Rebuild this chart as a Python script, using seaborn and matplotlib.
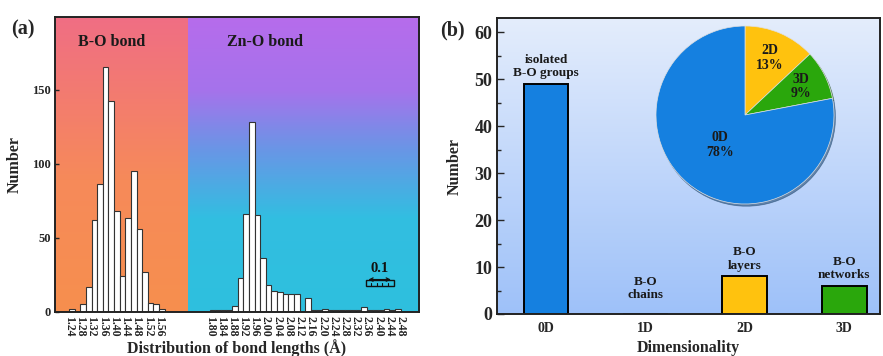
import numpy as np
import pandas as pd
import matplotlib
matplotlib.use("Agg")
import matplotlib.pyplot as plt
import seaborn as sns
from matplotlib.colors import LinearSegmentedColormap
from matplotlib.patches import Rectangle, FancyArrowPatch

# ---------------- data ----------------
bin_width = 0.02
bo_start = 1.24
bo_counts = [2, 0, 5, 17, 62, 86, 165, 142, 68, 24, 63, 95, 56, 27, 6, 5, 2]
zno_start = 1.80
zno_counts = [1, 1, 1, 1, 4, 23, 66, 128, 65, 36, 18, 14, 13, 12, 12, 12, 0, 9,
              1, 1, 2, 1, 1, 1, 1, 1, 1, 3, 1, 1, 1, 2, 1, 2]
bo_ticks = [1.24, 1.28, 1.32, 1.36, 1.40, 1.44, 1.48, 1.52, 1.56]
zno_ticks = [1.80, 1.84, 1.88, 1.92, 1.96, 2.00, 2.04, 2.08, 2.12, 2.16, 2.20,
             2.24, 2.28, 2.32, 2.36, 2.40, 2.44, 2.48]
axis_break_shift = 0.06   # Zn-O part drawn shifted left (axis break)

dims = ["0D", "1D", "2D", "3D"]
dim_counts = [49, 0, 8, 6]
dim_notes = ["isolated\nB-O groups", "B-O\nchains", "B-O\nlayers", "B-O\nnetworks"]
pie_labels = ["2D", "3D", "0D"]
pie_pct = [13, 9, 78]

dim_colors = {"0D": "#1580E0", "1D": "#1580E0", "2D": "#FFC20E", "3D": "#2AA70C"}

# ---------------- style ----------------
sns.set_style("ticks")
plt.rcParams["font.family"] = ["Liberation Serif", "DejaVu Serif"]
plt.rcParams["font.weight"] = "bold"
plt.rcParams["axes.labelweight"] = "bold"

W, H = 883, 356
fig = plt.figure(figsize=(W / 100, H / 100), dpi=100)

def px_axes(x0, y0, x1, y1):
    return [x0 / W, 1 - y1 / H, (x1 - x0) / W, (y1 - y0) / H]

# ================= panel (a) =================
ax1 = fig.add_axes(px_axes(55, 17, 419, 311.7))
xmin, xmax, ymax = 1.19, 2.485, 199
xsplit = 1.663

cm_bo = LinearSegmentedColormap.from_list(
    "bo", [(0.0, (247/255, 143/255, 78/255)), (0.45, (246/255, 138/255, 90/255)),
           (1.0, (240/255, 110/255, 132/255))])
cm_zn = LinearSegmentedColormap.from_list(
    "zn", [(0.0, (46/255, 192/255, 222/255)), (0.32, (50/255, 190/255, 225/255)),
           (0.55, (105/255, 150/255, 230/255)), (0.75, (165/255, 115/255, 235/255)),
           (1.0, (182/255, 108/255, 236/255))])
grad = np.linspace(0, 1, 256)[:, None]
ax1.imshow(grad, cmap=cm_bo, origin="lower", aspect="auto",
           extent=[xmin, xsplit, 0, ymax], zorder=0)
ax1.imshow(grad, cmap=cm_zn, origin="lower", aspect="auto",
           extent=[xsplit, xmax, 0, ymax], zorder=0)

bo_edges = bo_start + bin_width * np.arange(len(bo_counts) + 1)
zn_edges = zno_start + bin_width * np.arange(len(zno_counts) + 1) - axis_break_shift
df_bo = pd.DataFrame({"x": bo_edges[:-1] + bin_width / 2, "w": bo_counts})
df_zn = pd.DataFrame({"x": zn_edges[:-1] + bin_width / 2, "w": zno_counts})
hist_kw = dict(color="white", edgecolor="#333333", linewidth=0.8, alpha=1.0,
               ax=ax1, zorder=2)
sns.histplot(data=df_bo, x="x", weights="w", bins=list(bo_edges), **hist_kw)
sns.histplot(data=df_zn, x="x", weights="w", bins=list(zn_edges), **hist_kw)

ax1.set_xlim(xmin, xmax)
ax1.set_ylim(0, ymax)
tick_pos = list(bo_ticks) + [t - axis_break_shift for t in zno_ticks]
tick_lab = [f"{t:.2f}" for t in bo_ticks] + [f"{t:.2f}" for t in zno_ticks]
ax1.set_xticks(tick_pos)
ax1.set_xticklabels(tick_lab, rotation=270, fontsize=8.5, fontweight="bold")
ax1.set_yticks([0, 50, 100, 150])
ax1.set_yticklabels(["0", "50", "100", "150"], fontsize=9, fontweight="bold")
ax1.tick_params(axis="y", direction="in", length=3, width=1, pad=3)
ax1.tick_params(axis="x", direction="in", length=0, pad=3)
ax1.set_ylabel("Number", fontsize=11.5, fontweight="bold")
ax1.set_xlabel("Distribution of bond lengths (Å)", fontsize=11.5, fontweight="bold")
ax1.yaxis.set_label_coords(-0.088, 0.5)
ax1.xaxis.set_label_coords(0.5, -0.092)
for s in ax1.spines.values():
    s.set_linewidth(1.4)
    s.set_color("#222222")
    s.set_visible(True)

ax1.text(1.393, 182, "B-O bond", ha="center", va="center", fontsize=11.5,
         fontweight="bold", color="#1a1a1a")
ax1.text(1.937, 182, "Zn-O bond", ha="center", va="center", fontsize=11.5,
         fontweight="bold", color="#1a1a1a")

# scale bar "0.1"
sb_x0, sb_w = 2.295, 0.1
ax1.add_patch(Rectangle((sb_x0, 17.5), sb_w, 4.2, fill=False, edgecolor="#111",
                        linewidth=1.0, zorder=3))
for k in range(1, 5):
    ax1.plot([sb_x0 + 0.02 * k] * 2, [17.5, 19.3], color="#111", lw=0.8, zorder=3)
ax1.add_patch(FancyArrowPatch((sb_x0, 21.7), (sb_x0 + sb_w, 21.7), arrowstyle="<->",
                              mutation_scale=6, lw=0.9, color="#111", zorder=4))
ax1.text(sb_x0 + sb_w / 2, 29.5, "0.1", ha="center", va="center", fontsize=10.5,
         fontweight="bold", color="#111")

fig.text(23 / W, 1 - 29 / H, "(a)", ha="center", va="center", fontsize=14.5,
         fontweight="bold")

# ================= panel (b) =================
ax2 = fig.add_axes(px_axes(496.7, 18.3, 880, 314))
cm_bg = LinearSegmentedColormap.from_list(
    "bg", [(0.0, (158/255, 193/255, 249/255)), (1.0, (228/255, 237/255, 252/255))])
ax2.imshow(grad, cmap=cm_bg, origin="lower", aspect="auto",
           extent=[0, 1, 0, 1], transform=ax2.transAxes, zorder=0)

df = pd.DataFrame({"dim": dims, "count": dim_counts})
sns.barplot(data=df, x="dim", y="count", hue="dim", order=dims, palette=dim_colors,
            width=0.45, edgecolor="black", linewidth=1.4, legend=False, ax=ax2,
            saturation=1, zorder=2)
for i, (v, note) in enumerate(zip(dim_counts, dim_notes)):
    ax2.text(i, max(v, 1.8) + 1.0, note, ha="center", va="bottom", fontsize=9.5,
             fontweight="bold", linespacing=1.15, color="#1a1a1a", zorder=3)

ax2.set_xlim(-0.495, 3.36)
ax2.set_ylim(0, 63)
ax2.set_yticks(range(0, 61, 10))
ax2.set_yticks(range(5, 61, 10), minor=True)
ax2.tick_params(axis="y", which="major", direction="in", length=5, width=1,
                labelsize=13, pad=3)
ax2.tick_params(axis="y", which="minor", direction="in", length=3, width=1)
ax2.tick_params(axis="x", length=0, labelsize=10, pad=6)
for lab in ax2.get_xticklabels() + ax2.get_yticklabels():
    lab.set_fontweight("bold")
ax2.set_ylabel("Number", fontsize=11.5, fontweight="bold")
ax2.set_xlabel("Dimensionality", fontsize=11.5, fontweight="bold")
ax2.yaxis.set_label_coords(-0.088, 0.5)
ax2.xaxis.set_label_coords(0.5, -0.088)
for s in ax2.spines.values():
    s.set_linewidth(1.4)
    s.set_color("#222222")
    s.set_visible(True)

fig.text(452 / W, 1 - 30 / H, "(b)", ha="center", va="center", fontsize=14.5,
         fontweight="bold")

# pie inset
pax = fig.add_axes(px_axes(656, 26, 834, 204))
pax.patch.set_alpha(0)
lab_iter = iter(pie_labels)
wedges, texts, autotexts = pax.pie(
    pie_pct, colors=[dim_colors[l] for l in pie_labels], startangle=90,
    counterclock=False, autopct=lambda p: f"{next(lab_iter)}\n{p:.0f}%",
    pctdistance=0.70,
    shadow={"ox": 0.012, "oy": -0.018, "shade": 0.6, "alpha": 0.5},
    wedgeprops=dict(linewidth=0.5, edgecolor="#e0e0e0"),
    textprops=dict(fontsize=10, fontweight="bold", color="#1a1a1a",
                   linespacing=1.15))
x, y = autotexts[2].get_position()
autotexts[2].set_position((x * 0.44 / 0.70, y * 0.44 / 0.70))
pax.set_aspect("equal")
pax.set_xlim(-1.0, 1.0)
pax.set_ylim(-1.0, 1.0)
pax.set_clip_on(False)
for w in pax.patches:
    w.set_clip_on(False)

fig.savefig("out.png", dpi=100)
